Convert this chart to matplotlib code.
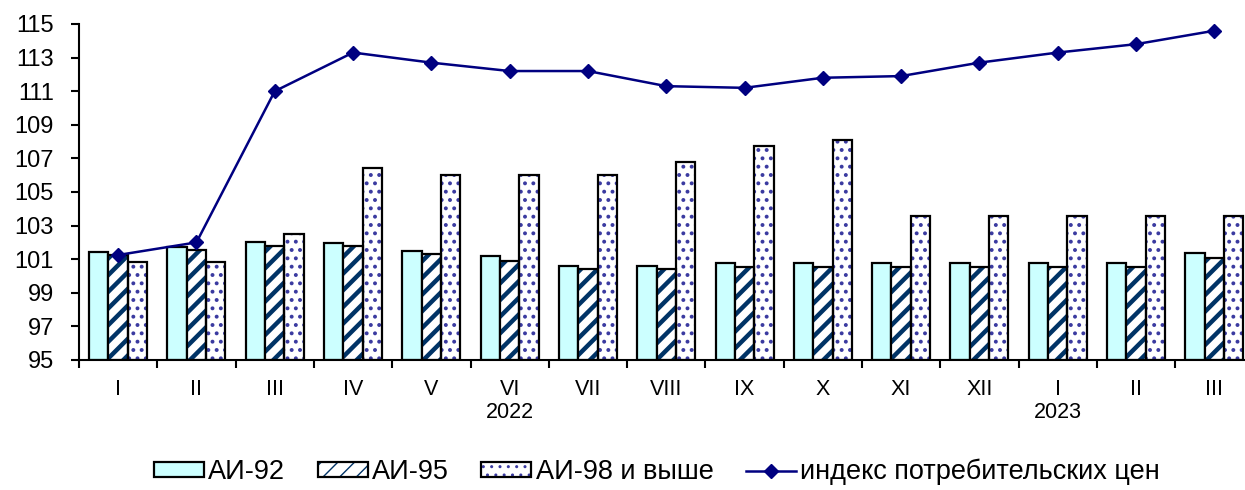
import numpy as np
import matplotlib
matplotlib.use('Agg')
import matplotlib.pyplot as plt
from matplotlib.patches import Patch
from matplotlib.lines import Line2D
from matplotlib.legend_handler import HandlerTuple

plt.rcParams['font.family'] = ['Liberation Sans', 'DejaVu Sans']

months = ['I', 'II', 'III', 'IV', 'V', 'VI', 'VII', 'VIII', 'IX', 'X', 'XI', 'XII', 'I', 'II', 'III']
ai92 = [101.45, 101.75, 102.05, 101.95, 101.5, 101.2, 100.6, 100.6, 100.75, 100.75, 100.75, 100.75, 100.75, 100.75, 101.35]
ai95 = [101.25, 101.55, 101.8, 101.8, 101.3, 100.9, 100.4, 100.4, 100.55, 100.55, 100.55, 100.55, 100.55, 100.55, 101.05]
ai98 = [100.85, 100.85, 102.5, 106.4, 106.0, 106.0, 106.0, 106.8, 107.75, 108.1, 103.6, 103.6, 103.6, 103.6, 103.6]
cpi = [101.25, 102.0, 111.0, 113.3, 112.7, 112.2, 112.2, 111.3, 111.2, 111.8, 111.9, 112.7, 113.3, 113.8, 114.6]
years = [(5, '2022'), (12, '2023')]

base = 95
x = np.arange(len(months))
w = 0.247

fig = plt.figure(figsize=(12.45, 4.9), dpi=100)
ax = fig.add_axes([79 / 1245, 1 - 360 / 490, 15 * 78.3 / 1245, 336 / 490])

# АИ-92
ax.bar(x - w, np.array(ai92) - base, w, bottom=base, color='#ccffff', edgecolor='black', linewidth=1.6, zorder=2)

# АИ-95 stripes (hatch colour from edgecolor, black outline drawn on top)
with plt.rc_context({'hatch.linewidth': 3.2}):
    ax.bar(x, np.array(ai95) - base, w, bottom=base, color='white', edgecolor='#003366', hatch='//', linewidth=0, zorder=2)
ax.bar(x, np.array(ai95) - base, w, bottom=base, fill=False, edgecolor='black', linewidth=1.6, zorder=3)

# АИ-98 dots
with plt.rc_context({'hatch.linewidth': 1.6}):
    ax.bar(x + w, np.array(ai98) - base, w, bottom=base, color='white', edgecolor='#3a3aa0', hatch='..', linewidth=0, zorder=2)
ax.bar(x + w, np.array(ai98) - base, w, bottom=base, fill=False, edgecolor='black', linewidth=1.6, zorder=3)

ax.plot(x, cpi, color='#000080', linewidth=1.8, marker='D', markersize=7, zorder=4)

ax.set_ylim(95, 115)
ax.set_yticks(np.arange(95, 116, 2))
ax.set_xlim(-0.5, len(months) - 0.5)
ax.set_xticks(x)
ax.set_xticklabels(months, fontsize=15.5)
ax.set_xticks(np.arange(-0.5, len(months), 1), minor=True)
ax.tick_params(axis='x', which='major', length=0, pad=14)
ax.tick_params(axis='x', which='minor', length=6, width=1.5, direction='out')
ax.tick_params(axis='y', length=6, width=1.5, direction='out', labelsize=17, pad=12)
for s in ['top', 'right']:
    ax.spines[s].set_visible(False)
for s in ['left', 'bottom']:
    ax.spines[s].set_linewidth(1.5)

for i, yr in years:
    ax.text(i, -0.155, yr, transform=ax.get_xaxis_transform(), ha='center', va='center', fontsize=15.5)

h92 = Patch(facecolor='#ccffff', edgecolor='black', linewidth=1.6)
with plt.rc_context({'hatch.linewidth': 3.2}):
    h95a = Patch(facecolor='white', edgecolor='#003366', hatch='//', linewidth=0)
h95b = Patch(fill=False, edgecolor='black', linewidth=1.6)
with plt.rc_context({'hatch.linewidth': 1.6}):
    h98a = Patch(facecolor='white', edgecolor='#3a3aa0', hatch='..', linewidth=0)
h98b = Patch(fill=False, edgecolor='black', linewidth=1.6)
hcpi = Line2D([], [], color='#000080', linewidth=1.8, marker='D', markersize=7)

fig.legend([h92, (h95a, h95b), (h98a, h98b), hcpi],
           ['АИ-92', 'АИ-95', 'АИ-98 и выше', 'индекс потребительских цен'],
           handler_map={tuple: HandlerTuple(ndivide=1, pad=0)},
           loc='center', bbox_to_anchor=(657 / 1245, 1 - 472 / 490), ncol=4, frameon=False,
           fontsize=19.5, handlelength=1.85, handleheight=0.48, handletextpad=0.15, columnspacing=1.2)

fig.savefig('out.png', dpi=100)
